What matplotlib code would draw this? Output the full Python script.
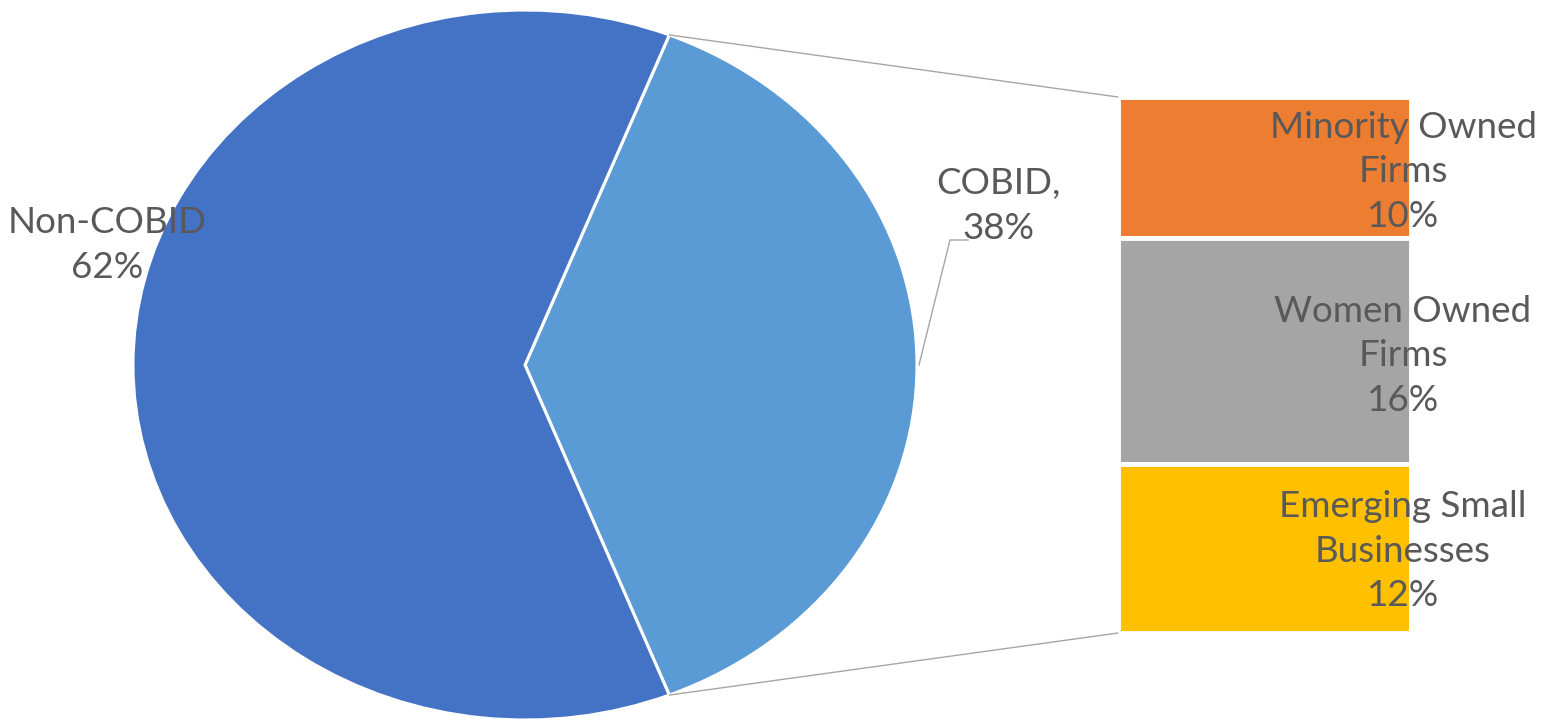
import numpy as np
import matplotlib
matplotlib.use('Agg')
import matplotlib.pyplot as plt
from matplotlib.patches import ConnectionPatch

# main pie
pie_labels = ['COBID', 'Non-COBID']
pie_values = [38, 62]
pie_colors = ['#5B9BD5', '#4472C4']

# breakdown of COBID (top to bottom in the bar)
bar_labels = ['Minority Owned\nFirms', 'Women Owned\nFirms', 'Emerging Small\nBusinesses']
bar_values = [10, 16, 12]
bar_colors = ['#ED7D31', '#A5A5A5', '#FFC000']

text_color = '#595959'
font = 'Lato'
fs = 26.5
ls = 1.42

W, H = 1553, 721
fig = plt.figure(figsize=(W / 100, H / 100), dpi=100)

# pie axes (stretched a little, like the original)
ax_pie = fig.add_axes([133 / W, 1 / H, 784 / W, 710 / H])
half = 360 * pie_values[0] / sum(pie_values) / 2
wedges, _ = ax_pie.pie(pie_values, colors=pie_colors, startangle=-half, counterclock=True,
                       wedgeprops=dict(edgecolor='white', linewidth=2.2))
ax_pie.set_aspect('auto')
ax_pie.set_xlim(-1, 1)
ax_pie.set_ylim(-1, 1)
ax_pie.axis('off')

# stacked bar
ax_bar = fig.add_axes([1118 / W, (H - 633) / H, 293 / W, 536 / H])
bottom = 0
for val, col in zip(bar_values, bar_colors):
    ax_bar.bar(0.5, val, width=1, bottom=bottom, color=col, edgecolor='white', linewidth=3.5)
    bottom += val
ax_bar.set_xlim(0, 1)
ax_bar.set_ylim(sum(bar_values), 0)
ax_bar.axis('off')

# connector lines from the COBID slice to the bar
a = np.deg2rad(half)
for sign, ybar in [(1, 0), (-1, sum(bar_values))]:
    con = ConnectionPatch(xyA=(np.cos(a), sign * np.sin(a)), coordsA=ax_pie.transData,
                          xyB=(0, ybar), coordsB=ax_bar.transData,
                          color='#A6A6A6', linewidth=1.0)
    fig.add_artist(con)

# overlay in pixel coords for the labels
ax = fig.add_axes([0, 0, 1, 1], zorder=5)
ax.set_xlim(0, W)
ax.set_ylim(H, 0)
ax.axis('off')
ax.patch.set_alpha(0)

ax.text(107, 245, 'Non-COBID\n62%', ha='center', va='center', color=text_color,
        fontsize=fs, family=font, linespacing=ls)
ax.text(998, 206, 'COBID,\n38%', ha='center', va='center', color=text_color,
        fontsize=fs, family=font, linespacing=ls)

# leader line for COBID label
edge = ax.transData.inverted().transform(ax_pie.transData.transform((1.0, 0.0)))
ax.plot([edge[0] + 2, 950, 968], [edge[1], 240, 240], color='#A6A6A6', linewidth=1.0)

label_y = [172, 356, 551]
for lab, val, y in zip(bar_labels, bar_values, label_y):
    pct = f'{round(val / sum(pie_values) * 100)}%'
    ax.text(1403, y, f'{lab}\n{pct}', ha='center', va='center', color=text_color,
            fontsize=fs, family=font, linespacing=ls)

fig.savefig('out.png', dpi=100, facecolor='white')
